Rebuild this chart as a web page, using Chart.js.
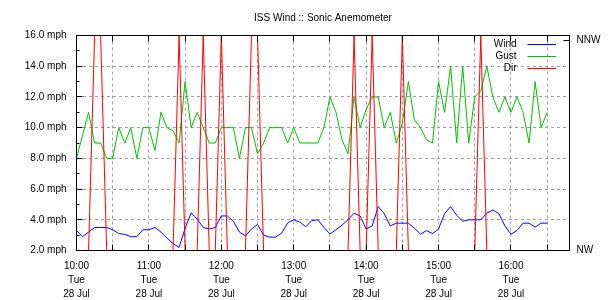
<!DOCTYPE html>
<html lang="en">
<head>
  <meta charset="UTF-8" />
  <title>ISS Wind :: Sonic Anemometer</title>
  <script src="https://cdn.jsdelivr.net/npm/chart.js"></script>
  <style>
    html, body { margin: 0; padding: 0; background: #fff; }
  </style>
</head>
<body>
  <canvas id="windChart" width="610" height="300"></canvas>

  <script>
    // archive records every 5 minutes, starting 10:00 Tue 28 Jul
    const startHour = 10;
    const sampleStep = 5;
    const dayLabel = "Tue";
    const dateLabel = "28 Jul";

    // mph
    const windSpeed = [
      3.3, 2.9, 3.2, 3.5, 3.5, 3.5, 3.35, 3.1, 3.05, 2.9, 2.9, 3.35, 3.35, 3.5, 3.2, 2.8,
      2.45, 2.2, 3.45, 4.45, 4.05, 3.5, 3.4, 3.5, 4.25, 4.25, 3.9, 3.2, 2.95, 3.4, 3.7, 3.0,
      2.87, 2.87, 3.13, 3.8, 4.0, 3.85, 3.55, 3.95, 4.0, 3.5, 3.08, 3.35, 3.65, 4.0, 4.43, 4.25,
      3.4, 3.6, 4.86, 4.4, 3.6, 3.78, 3.78, 3.78, 3.45, 3.06, 3.3, 3.1, 3.4, 4.4, 4.86, 4.3,
      3.9, 4.0, 4.0, 4.0, 4.43, 4.64, 4.4, 3.6, 3.06, 3.3, 3.78, 3.78, 3.52, 3.78, 3.78
    ];
    const gustSpeed = [
      8, 9.5, 11, 9, 9, 8, 8, 10, 9, 10, 8, 10, 10, 8.5, 11, 10,
      9.8, 9, 13, 10, 11, 10, 9, 9, 10, 10, 10, 8, 10, 10, 8.3, 9,
      10, 10, 10, 9, 10, 9, 9, 9, 9, 10, 12, 11, 9.2, 8.3, 12, 10,
      11.2, 12, 12, 10, 11, 9, 10.3, 13, 10.5, 10, 9.2, 9, 13, 11, 14, 9,
      14, 9, 12, 12.4, 14, 12, 11, 12, 11, 12, 11, 9, 13, 10, 11
    ];
    // degrees
    const windDir = [
      315, 315, 315, 338, 338, 315, 315, 315, 315, 315, 315, 315, 315, 315, 315, 315,
      315, 338, 315, 315, 315, 338, 315, 315, 338, 315, 315, 315, 315, 338, 338, 315,
      315, 315, 315, 315, 315, 315, 315, 315, 315, 315, 315, 315, 315, 315, 338, 315,
      315, 338, 315, 315, 315, 315, 338, 315, 315, 315, 315, 315, 315, 315, 315, 315,
      315, 315, 315, 338, 315, 315, 315, 315, 315, 315, 315, 315, 315, 315, 315
    ];
    const dirNames = { 315: "NW", 337.5: "NNW" };
    const speedTicks = [2, 4, 6, 8, 10, 12, 14, 16];

    const sampleMinutes = windSpeed.map((_, i) => i * sampleStep);
    const gridMinutes = [0, 30, 60, 90, 120, 150, 180, 210, 240, 270, 300, 330, 360, 390];

    const toPoints = (values) => values.map((v, i) => ({ x: sampleMinutes[i], y: v }));

    Chart.defaults.font.family = '"Liberation Sans", Arial, sans-serif';
    Chart.defaults.font.size = 10;
    Chart.defaults.color = "#000";

    const gridGrey = "#a0a0a0";
    const align = (p) => Math.round(p - 0.5) + 0.5;

    // gnuplot style frame, inward tics and in-plot key
    const gnuplotFrame = {
      id: "gnuplotFrame",
      afterDatasetsDraw(chart) {
        const { ctx, chartArea: a, scales } = chart;
        const { x, y, y2 } = scales;
        ctx.save();
        ctx.strokeStyle = "#000";
        ctx.lineWidth = 1;
        ctx.beginPath();
        for (let v = 3; v < 16; v++) {
          const py = align(y.getPixelForValue(v));
          const len = v % 2 === 0 ? 6 : 3;
          ctx.moveTo(a.left, py);
          ctx.lineTo(a.left + len, py);
        }
        gridMinutes.forEach((m) => {
          if (m === 0) return;
          const px = align(x.getPixelForValue(m));
          ctx.moveTo(px, a.top);
          ctx.lineTo(px, a.top + 6);
          ctx.moveTo(px, a.bottom);
          ctx.lineTo(px, a.bottom - 6);
        });
        const pn = align(y2.getPixelForValue(337.5));
        ctx.moveTo(a.right, pn);
        ctx.lineTo(a.right - 6, pn);
        ctx.stroke();
        ctx.strokeRect(a.left, a.top, a.right - a.left, a.bottom - a.top);

        // key
        ctx.font = '10px "Liberation Sans", Arial, sans-serif';
        ctx.textAlign = "right";
        ctx.textBaseline = "middle";
        chart.data.datasets.forEach((ds, i) => {
          const ky = align(a.top + 9 + i * 12);
          ctx.fillStyle = "#000";
          ctx.fillText(ds.label, a.right - 53, ky);
          ctx.fillStyle = ds.borderColor;
          ctx.fillRect(a.right - 42, ky - 0.5, 28.5, 1);
        });
        ctx.restore();
      }
    };

    new Chart(document.getElementById("windChart"), {
      type: "line",
      data: {
        datasets: [
          { label: "Wind", data: toPoints(windSpeed), borderColor: "#0000ff", yAxisID: "y", order: 2 },
          { label: "Gust", data: toPoints(gustSpeed), borderColor: "#00c000", yAxisID: "y", order: 1 },
          { label: "Dir", data: toPoints(windDir), borderColor: "#ff0000", yAxisID: "y2", order: 0 }
        ]
      },
      options: {
        responsive: false,
        animation: false,
        elements: {
          line: { borderWidth: 1, tension: 0 },
          point: { radius: 0 }
        },
        plugins: {
          legend: { display: false },
          tooltip: { enabled: false },
          title: {
            display: true,
            fullSize: false,
            text: "ISS Wind :: Sonic Anemometer",
            color: "#000",
            font: { size: 10, weight: "normal" },
            padding: { top: 12, bottom: 11.5 }
          }
        },
        scales: {
          x: {
            type: "linear",
            min: 0,
            max: 408.5,
            afterBuildTicks: (s) => { s.ticks = gridMinutes.map((v) => ({ value: v })); },
            afterFit: (s) => { s.height = 49.5; },
            border: { display: false, dash: [3, 3] },
            grid: {
              drawTicks: false,
              color: (c) => (c.tick && c.tick.value > 0 ? gridGrey : "rgba(0,0,0,0)")
            },
            ticks: {
              autoSkip: false,
              maxRotation: 0,
              padding: 9,
              font: { size: 10, lineHeight: 1.4 },
              callback: (v) => (v % 60 === 0 ? [(startHour + v / 60) + ":00", dayLabel, dateLabel] : "")
            }
          },
          y: {
            position: "left",
            min: 2,
            max: 16,
            afterBuildTicks: (s) => { s.ticks = speedTicks.map((v) => ({ value: v })); },
            afterFit: (s) => { s.width = 76.5; },
            border: { display: false, dash: [3, 3] },
            grid: {
              drawTicks: false,
              color: (c) => (c.tick && c.tick.value > 2 && c.tick.value < 16 ? gridGrey : "rgba(0,0,0,0)")
            },
            ticks: {
              padding: 10,
              callback: (v) => v.toFixed(1) + " mph"
            }
          },
          y2: {
            position: "right",
            min: 315,
            max: 338,
            afterBuildTicks: (s) => { s.ticks = [315, 337.5].map((v) => ({ value: v })); },
            afterFit: (s) => { s.width = 40.5; },
            border: { display: false },
            grid: { display: false, drawTicks: false },
            ticks: {
              padding: 7,
              callback: (v) => dirNames[v]
            }
          }
        }
      },
      plugins: [gnuplotFrame]
    });
  </script>
</body>
</html>
